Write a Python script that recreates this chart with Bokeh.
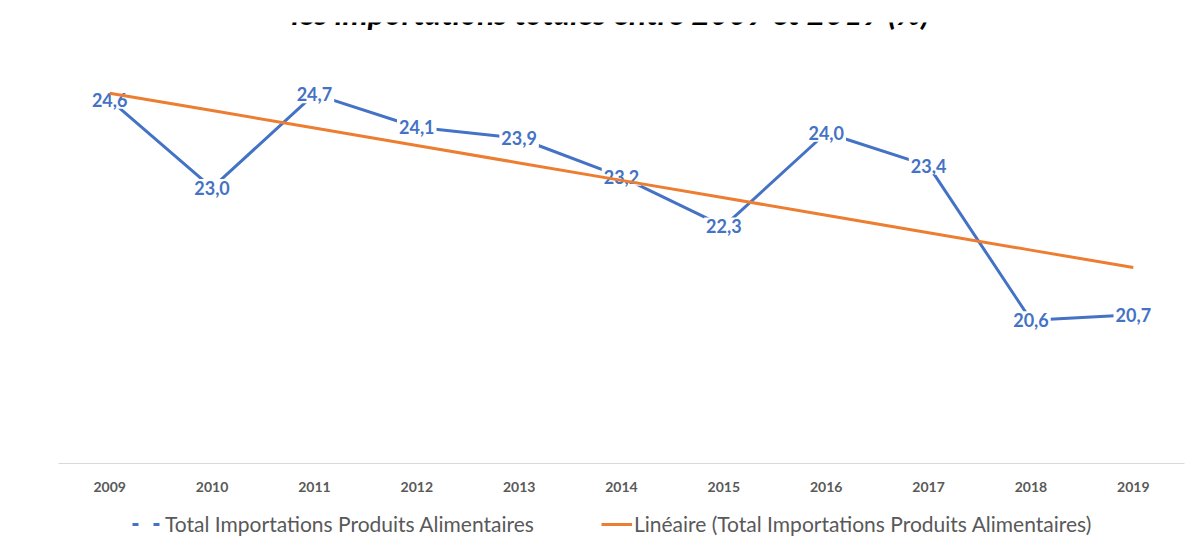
import numpy as np
from bokeh.plotting import figure
from bokeh.layouts import column
from bokeh.models import Range1d, FactorRange, Legend, LegendItem, Label, ColumnDataSource
from bokeh.core.properties import value
from bokeh.embed import file_html
from bokeh.resources import INLINE

years = ["2009", "2010", "2011", "2012", "2013", "2014", "2015", "2016", "2017", "2018", "2019"]
values = [24.6, 23.0, 24.7, 24.1, 23.9, 23.2, 22.3, 24.0, 23.4, 20.6, 20.7]
title_text = "les importations totales entre 2009 et 2019 (%)"
series_name = "Total Importations Produits Alimentaires"
trend_name = "Linéaire (Total Importations Produits Alimentaires)"

labels = [f"{v:.1f}".replace(".", ",") for v in values]
idx = np.arange(len(values))
slope, intercept = np.polyfit(idx, values, 1)
trend = list(intercept + slope * idx)

BLUE = "#4472C4"
ORANGE = "#ED7D31"
GRAY = "#595959"
FONT = "Lato"

W = 1186
H1 = 500
H2 = 36
FRAME_LEFT = 58
FRAME_TOP = 22
FRAME_BOTTOM = 463

p = figure(width=W, height=H1, output_backend="svg", toolbar_location=None,
           x_range=FactorRange(*years), y_range=Range1d(18, 26),
           min_border_left=FRAME_LEFT, min_border_right=2, min_border_top=FRAME_TOP,
           min_border_bottom=H1 - FRAME_BOTTOM)
p.outline_line_color = None
p.xgrid.visible = False
p.ygrid.visible = False
p.yaxis.visible = False
p.background_fill_color = "white"
p.border_fill_color = "white"

xa = p.xaxis[0]
xa.axis_line_color = "#D9D9D9"
xa.axis_line_width = 1
xa.major_tick_line_color = None
xa.minor_tick_line_color = None
xa.major_tick_out = 0
xa.major_tick_in = 0
xa.major_label_standoff = 18
xa.major_label_text_font = FONT
xa.major_label_text_font_style = "bold"
xa.major_label_text_font_size = "14px"
xa.major_label_text_color = GRAY

src = ColumnDataSource(dict(x=years, y=values, lab=labels, t=trend))

p.line("x", "y", source=src, line_color=BLUE, line_width=3)
p.text("x", "y", text="lab", source=src, text_align="center", text_baseline="middle",
       text_font=value(FONT), text_font_style="bold", text_font_size="18px",
       text_color=BLUE, background_fill_color="white", padding=2)
p.line("x", "t", source=src, line_color=ORANGE, line_width=3)

title = Label(x=552, y=FRAME_BOTTOM - 12, x_units="screen", y_units="screen", text=title_text,
              text_align="center", text_baseline="alphabetic", text_font=FONT,
              text_font_style="bold italic", text_font_size="32px", text_color="black")
p.add_layout(title)

# legend strip (same series, drawn off-range so only the legend shows)
p2 = figure(width=W, height=H2, output_backend="svg", toolbar_location=None,
            x_range=p.x_range, y_range=Range1d(100, 101),
            x_axis_type=None, y_axis_type=None,
            min_border_left=0, min_border_right=0, min_border_top=0, min_border_bottom=0)
p2.outline_line_color = None
p2.xgrid.visible = False
p2.ygrid.visible = False
p2.background_fill_color = "white"
p2.border_fill_color = "white"
leg_blue = p2.line("x", "y", source=src, line_color=BLUE, line_width=3, line_dash="6 15")
leg_orange = p2.line("x", "t", source=src, line_color=ORANGE, line_width=3)

legend = Legend(items=[LegendItem(label=series_name, renderers=[leg_blue]),
                       LegendItem(label=trend_name, renderers=[leg_orange])],
                location=(74, 0), orientation="horizontal",
                glyph_width=31, glyph_height=20, label_standoff=2, spacing=67,
                padding=0, margin=0, border_line_color=None, background_fill_alpha=0,
                label_text_font=FONT, label_text_font_size="21px", label_text_color=GRAY,
                label_text_baseline="middle", label_height=20)
p2.add_layout(legend, "center")

layout = column(p, p2, spacing=0)
open("out.html", "w").write(file_html(layout, INLINE))
